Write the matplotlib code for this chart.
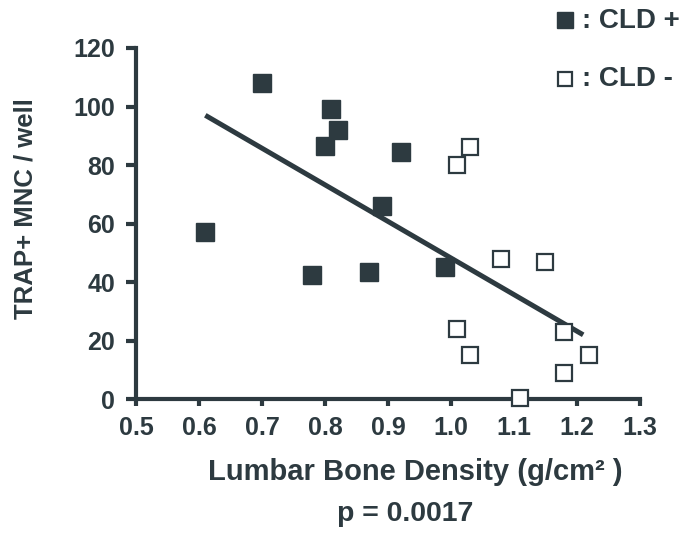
import matplotlib.pyplot as plt
from matplotlib.lines import Line2D

# CLD+ (filled) and CLD- (open) groups
cld_pos_x = [0.61, 0.70, 0.81, 0.82, 0.80, 0.92, 0.89, 0.78, 0.87, 0.99]
cld_pos_y = [57, 108, 99, 92, 86.5, 84.5, 66, 42.5, 43.5, 45]
cld_neg_x = [1.03, 1.01, 1.08, 1.15, 1.01, 1.03, 1.18, 1.22, 1.18, 1.11]
cld_neg_y = [86, 80, 48, 47, 24, 15, 23, 15, 9, 0.3]

# regression line end points
fit_x = [0.61, 1.21]
fit_y = [97, 22]

xticks = [0.5, 0.6, 0.7, 0.8, 0.9, 1.0, 1.1, 1.2, 1.3]
yticks = [0, 20, 40, 60, 80, 100, 120]

ink = '#2d3a40'
plt.rcParams['font.family'] = ['Liberation Sans', 'DejaVu Sans']
plt.rcParams['font.weight'] = 'bold'

fig = plt.figure(figsize=(6.94, 5.33), dpi=100)
ax = fig.add_axes([0.196, 0.251, 0.726, 0.659])

ax.plot(fit_x, fit_y, color=ink, lw=3.6, solid_capstyle='butt', zorder=2)
ax.plot(cld_pos_x, cld_pos_y, 's', ms=13, color=ink, mec=ink, zorder=3)
ax.plot(cld_neg_x, cld_neg_y, 's', ms=11, mfc='white', mec=ink, mew=1.6, zorder=3, clip_on=False)

ax.set_xlim(0.5, 1.3)
ax.set_ylim(0, 120)
ax.set_xticks(xticks)
ax.set_xticklabels([f'{v:.1f}' for v in xticks])
ax.set_yticks(yticks)

for s in ['top', 'right']:
    ax.spines[s].set_visible(False)
for s in ['left', 'bottom']:
    ax.spines[s].set_linewidth(3)
    ax.spines[s].set_color(ink)
    ax.spines[s].set_capstyle('projecting')

ax.tick_params(direction='out', width=3, color=ink, labelsize=18, labelcolor=ink)
ax.tick_params(axis='x', length=5, pad=7)
ax.tick_params(axis='y', length=7, pad=8)

fig.text(0.037, 0.608, 'TRAP+ MNC / well', rotation=90, ha='center', va='center',
         fontsize=18.5, color=ink)
fig.text(0.599, 0.099, 'Lumbar Bone Density (g/cm\u00b2 )', ha='center', va='baseline',
         fontsize=21, color=ink)
fig.text(0.584, 0.0225, 'p = 0.0017', ha='center', va='baseline', fontsize=20.5, color=ink)

# legend in the top-right corner
fig.add_artist(Line2D([0.814], [0.962], marker='s', ms=11, color=ink, ls='none',
                      transform=fig.transFigure))
fig.add_artist(Line2D([0.814], [0.852], marker='s', ms=10, mfc='white', mec=ink, mew=1.6,
                      ls='none', transform=fig.transFigure))
fig.text(0.839, 0.961, ': CLD +', ha='left', va='center', fontsize=20, color=ink)
fig.text(0.839, 0.852, ': CLD -', ha='left', va='center', fontsize=20, color=ink)

fig.savefig('out.png', dpi=100)
